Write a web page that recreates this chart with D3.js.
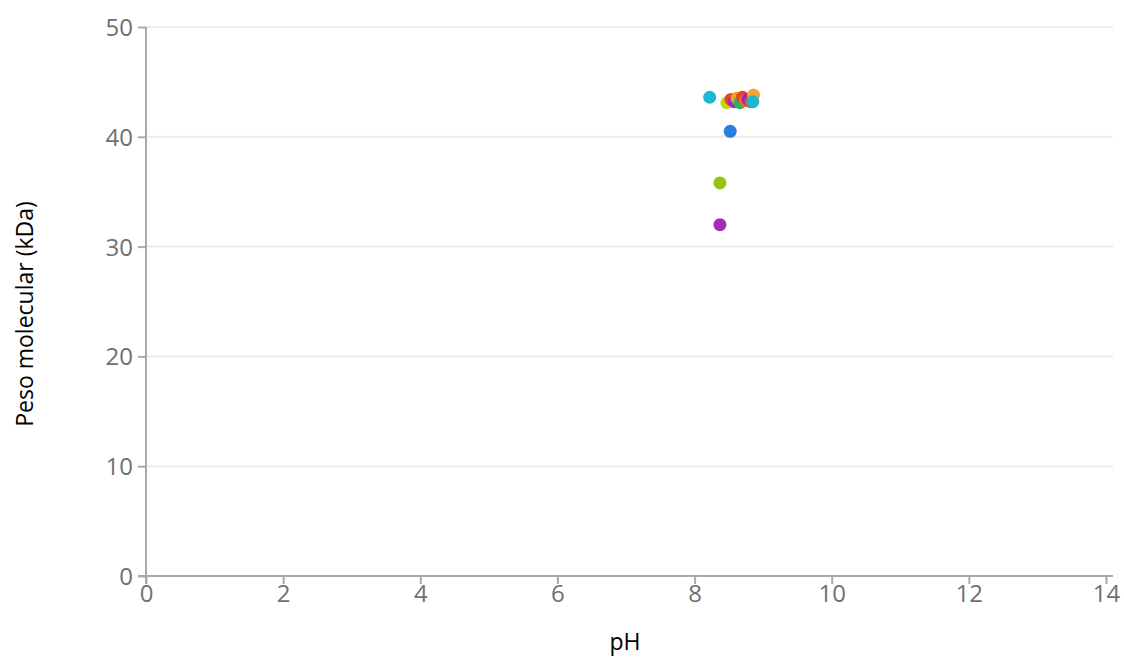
<!DOCTYPE html>
<meta charset="utf-8">
<style>
body { margin: 0; background: #fff; }
.axis path, .axis line { stroke: #aaa; stroke-width: 2px; }
.axis text { fill: #707070; font-family: "Open Sans", sans-serif; font-size: 24px; }
.grid line { stroke: #ececec; stroke-width: 2px; }
.label { font-family: "Open Sans", sans-serif; font-size: 23px; fill: #000; }
</style>
<svg width="1124" height="660"></svg>
<script src="https://d3js.org/d3.v7.min.js"></script>
<script>

// pH values, molecular weight (kDa) and point colour
var phValues = [8.22, 8.52, 8.37, 8.37, 8.47, 8.53, 8.58, 8.62, 8.66, 8.70, 8.74, 8.78, 8.82, 8.86, 8.85];
var kdaValues = [43.6, 40.5, 35.8, 32.0, 43.1, 43.4, 43.2, 43.5, 43.1, 43.6, 43.3, 43.4, 43.2, 43.8, 43.2];
var pointColors = ["#1cb8d2", "#2a7de1", "#99c20f", "#a22fb2", "#c7d41c", "#e8432e", "#a22fb2", "#f0a21c", "#2ab36c",
                   "#e8432e", "#f36d20", "#9c27b0", "#e8432e", "#f7a531", "#1cb8d2"];

var xTicks = [0, 2, 4, 6, 8, 10, 12, 14];
var yTicks = [0, 10, 20, 30, 40, 50];

var svg = d3.select("svg"),
    margin = {top: 27, right: 18, bottom: 84, left: 146},
    width = 960,
    height = 549;

var x = d3.scaleLinear().domain([0, 14]).range([0, width]),
    y = d3.scaleLinear().domain([0, 50]).range([height, 0]);

var g = svg.append("g")
    .attr("transform", "translate(" + margin.left + "," + margin.top + ")");

// horizontal grid
g.append("g")
    .attr("class", "grid")
  .selectAll("line")
  .data(yTicks.filter(function(d) { return d > 0; }))
  .enter().append("line")
    .attr("x1", 0)
    .attr("x2", width + 7)
    .attr("y1", function(d) { return y(d); })
    .attr("y2", function(d) { return y(d); });

g.append("g")
    .attr("class", "axis axis--x")
    .attr("transform", "translate(0," + height + ")")
    .call(d3.axisBottom(x).tickValues(xTicks).tickSize(8).tickSizeOuter(0).tickPadding(1))
    .call(function(a) { a.select(".domain").attr("d", "M-8,0H" + (width + 7)); });

g.append("g")
    .attr("class", "axis axis--y")
    .call(d3.axisLeft(y).tickValues(yTicks).tickSize(8).tickSizeOuter(0).tickPadding(5))
    .call(function(a) {
      a.select(".domain").attr("d", "M0," + (height + 8) + "V0");
      a.selectAll(".tick text").attr("dy", "0.35em");
    });

g.selectAll(".dot")
  .data(phValues)
  .enter().append("circle")
    .attr("class", "dot")
    .attr("r", 6.5)
    .attr("cx", function(d) { return x(d); })
    .attr("cy", function(d, i) { return y(kdaValues[i]); })
    .attr("fill", function(d, i) { return pointColors[i]; });

svg.append("text")
    .attr("class", "label")
    .attr("text-anchor", "middle")
    .attr("x", 625)
    .attr("y", 650)
    .text("pH");

svg.append("text")
    .attr("class", "label")
    .attr("text-anchor", "middle")
    .attr("transform", "translate(33,314) rotate(-90)")
    .text("Peso molecular (kDa)");

</script>
